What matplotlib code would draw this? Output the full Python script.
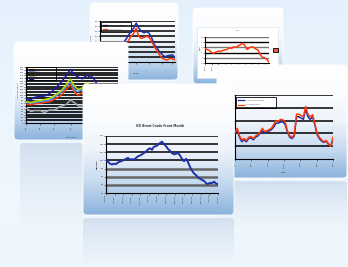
import numpy as np
import matplotlib
matplotlib.use("Agg")
import matplotlib.pyplot as plt
from matplotlib.patches import FancyBboxPatch, Rectangle
from matplotlib.colors import LinearSegmentedColormap

W, H = 348, 267

# --- data ---
# front panel: ICE Brent crude, front month (dollars)
brent = [100, 97, 92, 90, 92, 91, 95, 97, 99, 101, 104, 106, 102, 103, 102, 106,
         110, 112, 115, 118, 122, 127, 130, 126, 134, 135, 138, 143, 146, 140, 135,
         128, 124, 118, 115, 116, 119, 112, 104, 98, 104, 96, 84, 75, 68, 64, 58,
         55, 52, 50, 44, 42, 45, 44, 48, 43, 42]
brent_ticks = ["Jan-08", "Feb-08", "Mar-08", "Apr-08", "May-08", "Jun-08", "Jul-08",
               "Aug-08", "Sep-08", "Oct-08", "Nov-08", "Dec-08", "Jan-09", "Feb-09"]
brent_yticks = [20, 40, 60, 80, 100, 120, 140, 160]

# left panel: five retail series
c_dark = [88, 85, 82, 90, 92, 94, 96, 95, 97, 100, 106, 112, 122, 128, 138, 146, 158,
          168, 182, 191, 176, 170, 165, 160, 158, 166, 171, 163, 165, 155, 140, 135,
          130, 128, 132, 125, 120, 118, 122, 115]
c_yellow = [76, 75, 73, 75, 78, 79, 80, 82, 84, 86, 88, 92, 98, 104, 110, 116, 126,
            136, 150, 156, 138, 128, 120, 122, 126, 140, 142, 135, 130, 128, 125, 120,
            118, 115, 118, 112, 110, 108, 110, 105]
c_light = [73, 72, 70, 72, 74, 75, 76, 78, 79, 80, 82, 86, 92, 98, 104, 110, 120, 130,
           140, 145, 128, 115, 112, 116, 120, 130, 132, 126, 122, 120, 118, 114, 112,
           110, 112, 106, 104, 102, 104, 100]
c_red = [68, 66, 65, 67, 69, 70, 71, 72, 74, 75, 76, 80, 85, 88, 94, 100, 110, 120,
         130, 136, 118, 106, 100, 104, 110, 115, 118, 112, 108, 106, 104, 100, 98, 96,
         98, 92, 90, 88, 90, 86]
c_gray = [53, 48, 41, 43, 45, 44, 45, 40, 38, 42, 47, 46, 47, 50, 58, 60, 63, 66, 75,
          82, 75, 70, 62, 58, 65, 68, 60, 58, 56, 55, 54, 52, 50, 50, 52, 48, 47, 46,
          47, 45]
c_names = ["Regular", "Midgrade", "Premium", "Diesel", "Crude"]
c_ticks = ["1/1", "3/1", "5/1", "7/1"]

# top panel: weekly blue / red
a_blue = [28, 26, 30, 29, 32, 31, 34, 33, 36, 38, 44, 52, 60, 66, 76, 66, 60, 57, 59,
          56, 47, 34, 28, 20, 15, 10, 12, 13, 14, 8]
a_red = [22, 20, 24, 23, 25, 24, 27, 26, 28, 30, 34, 42, 50, 56, 66, 50, 46, 48, 50,
         48, 40, 30, 22, 14, 8, 5, 4, 7, 6, 4]
a_names = ["US Refiner Price", "US Retail Price"]

# top right panel: single red series
b_red = [2.8, 2.6, 2.4, 2.0, 1.9, 2.1, 2.3, 2.2, 2.4, 2.5, 2.6, 2.9, 2.8, 3.1, 3.0,
         3.3, 3.5, 3.8, 3.4, 2.6, 2.9, 3.1, 3.0, 2.7, 2.5, 1.6, 1.1, 1.0, 0.7, 0.2]

# right panel: daily blue / red
d_red = [2.1, 2.4, 1.8, 1.5, 1.6, 1.45, 1.7, 1.75, 1.6, 1.8, 1.9, 2.1, 2.4, 2.15, 2.2,
         2.3, 2.4, 2.7, 3.0, 2.95, 3.1, 3.05, 2.9, 2.2, 1.8, 1.7, 1.9, 3.5, 3.5, 3.4,
         3.3, 4.1, 3.5, 3.3, 3.45, 2.8, 2.0, 1.7, 1.5, 1.35, 1.45, 1.2, 1.0, 1.7]
d_blue = [2.0, 2.2, 1.7, 1.35, 1.5, 1.35, 1.6, 1.65, 1.5, 1.7, 1.8, 2.0, 2.2, 2.05, 2.1,
          2.2, 2.3, 2.5, 2.8, 2.8, 2.9, 2.9, 2.7, 2.1, 1.7, 1.6, 1.8, 3.3, 3.3, 3.2,
          3.1, 3.9, 3.3, 3.1, 3.3, 2.7, 1.9, 1.6, 1.4, 1.3, 1.4, 1.15, 1.0, 1.5]
d_names = ["NYMEX Front Month", "NY Harbor Spot"]
d_ticks = ["1/07", "4/07", "7/07", "10/07", "1/08", "4/08", "7/08"]

BLUE = "#1f2fa6"
RED = "#ff3a0a"

fig = plt.figure(figsize=(W / 100, H / 100), dpi=100)


def layer(z):
    ax = fig.add_axes([0, 0, 1, 1], zorder=z)
    ax.axis("off")
    return ax


def fix(ax):
    ax.set_xlim(0, W)
    ax.set_ylim(H, 0)


def grad_box(ax, x0, y0, x1, y1, stops, r=4, edge=None):
    cmap = LinearSegmentedColormap.from_list("g", stops)
    g = np.linspace(0, 1, 256).reshape(-1, 1)
    im = ax.imshow(g, cmap=cmap, extent=[x0, x1, y1, y0], aspect="auto",
                   origin="upper", vmin=0, vmax=1, interpolation="bilinear")
    clip = FancyBboxPatch((x0, y0), x1 - x0, y1 - y0,
                          boxstyle=f"round,pad=0,rounding_size={r}",
                          transform=ax.transData, fc="none", ec="none")
    im.set_clip_path(clip)
    if edge:
        ax.add_patch(FancyBboxPatch((x0, y0), x1 - x0, y1 - y0,
                                    boxstyle=f"round,pad=0,rounding_size={r}",
                                    fill=False, ec=edge, lw=0.6))
    fix(ax)


def chart(x0, y0, x1, y1, z):
    ax = fig.add_axes([x0 / W, 1 - y1 / H, (x1 - x0) / W, (y1 - y0) / H], zorder=z)
    ax.patch.set_alpha(0)
    for s in ["top", "right"]:
        ax.spines[s].set_visible(False)
    for s in ["left", "bottom"]:
        ax.spines[s].set_linewidth(0.8)
    ax.tick_params(labelsize=1.6, length=1.2, width=0.4, pad=0.5, colors="#333333")
    return ax


def hgrid(ax, vals, xmax, colors=None, lw=1.0):
    for i, v in enumerate(vals):
        c = colors[i % len(colors)] if colors else "black"
        ax.plot([0, xmax], [v, v], color=c, lw=lw, zorder=1, solid_capstyle="butt")


PANEL = ["#ffffff", "#fbfcfe", "#eef4fa", "#c6daef", "#8ab3dc"]
REFL = ["#d2e0ef", "#e3edf7", "#eef6fc"]

# background
bg = layer(0)
grad_box(bg, 0, 0, W, H, ["#e4f1fc", "#edf6fd", "#eef6fd"], r=0.01)
bg.add_patch(Rectangle((0, 178), W, 50, fc="#f2f8fd", ec="none", alpha=0.6))

# ---- panel A (top centre, back) ----
la = layer(1)
grad_box(la, 90, 3, 178, 80, PANEL, edge="#ffffff")
la.text(136, 73, "Week", fontsize=1.6, ha="center", va="center", color="#333333")
la.text(91, 40, "Cents/gallon", fontsize=1.5, rotation=90, ha="center", va="center",
        color="#333333")
aa = chart(100, 21, 175, 62, 1.5)
xa = np.arange(len(a_blue))
hgrid(aa, range(10, 81, 10), len(a_blue) - 1, lw=1.1)
aa.plot(xa, a_blue, color=BLUE, lw=1.1, zorder=3)
aa.plot(xa, a_red, color=RED, lw=1.1, zorder=3)
aa.set_xlim(0, len(a_blue) - 1)
aa.set_ylim(0, 80)
aa.set_yticks(range(0, 81, 10))
aa.set_xticks([14, 19, 24, 28])
aa.set_xticklabels(["", "", "", ""])
la.add_patch(Rectangle((101, 22), 30, 10, fc="white", ec="black", lw=0.6, zorder=5))
for k, (nm, cl) in enumerate(zip(a_names, [BLUE, RED])):
    yy = 25 + k * 4
    la.plot([103, 107], [yy, yy], color=cl, lw=0.9, zorder=6)
    la.text(108, yy, nm, fontsize=1.4, va="center", color="#333333", zorder=6)

# ---- panel B (top right) ----
lb = layer(2)
grad_box(lb, 193, 8, 283, 84, PANEL, edge="#ffffff")
lb.add_patch(Rectangle((197, 27), 81, 51, fc="white", ec="#dddddd", lw=0.4))
lb.text(238, 30.5, "HO", fontsize=1.6, ha="center", va="center", color="#333333")
lb.text(200.5, 48, "$/gal", fontsize=1.4, rotation=90, ha="center", va="center",
        color="#333333")
lb.add_patch(Rectangle((272.5, 48), 5, 3.5, fc="#e8624a", ec="black", lw=0.6))
ab = chart(205, 37, 269, 63, 2.5)
xb = np.arange(len(b_red))
hgrid(ab, [1, 2, 3, 4, 5], len(b_red) - 1, colors=["#777777", "black"], lw=1.0)
ab.plot(xb, b_red, color=RED, lw=1.1, zorder=3)
ab.set_xlim(0, len(b_red) - 1)
ab.set_ylim(0, 5)
ab.set_yticks(range(6))
ab.set_xticks(range(0, len(b_red), 3))
ab.set_xticklabels(["1/08"] * len(range(0, len(b_red), 3)), rotation=90)

# ---- panel C (left) ----
lc = layer(3)
grad_box(lc, 20, 143, 83, 225, REFL, r=4)
grad_box(lc, 14, 42, 128, 140, PANEL, edge="#ffffff")
lc.text(72, 137, "Month/Day", fontsize=1.5, ha="center", va="center", color="#333333")
lc.text(18.5, 90, "Cents per gallon", fontsize=1.4, rotation=90, ha="center",
        va="center", color="#333333")
ac = chart(26, 67, 118, 123, 3.5)
xc = np.arange(len(c_dark))
hgrid(ac, range(10, 201, 10), len(c_dark) - 1, lw=1.2)
for ser, cl in zip([c_gray, c_red, c_light, c_yellow, c_dark],
                   ["#a8a8a8", RED, "#4f8fea", "#b7e000", "#1a1a9c"]):
    ac.plot(xc, ser, color=cl, lw=1.1, zorder=3)
ac.set_xlim(0, len(c_dark) - 1)
ac.set_ylim(0, 200)
ac.set_yticks(range(0, 201, 10))
ac.set_xticks([0, 6, 12, 19])
ac.set_xticklabels(c_ticks, rotation=90)
lc.add_patch(Rectangle((27, 67), 29, 13, fc="white", ec="black", lw=0.6, zorder=5))
for k, (nm, cl) in enumerate(zip(c_names, [RED, "#4f8fea", "#b7e000", "#a8a8a8", "#1a1a9c"])):
    yy = 69 + k * 2.4
    lc.plot([28.5, 33], [yy, yy], color=cl, lw=0.9, zorder=6)
    lc.text(34, yy, nm, fontsize=1.2, va="center", color="#666666", zorder=6)

# ---- panel D (right) ----
ld = layer(4)
grad_box(ld, 218, 181, 347, 228, REFL, r=4)
grad_box(ld, 217, 65, 347, 178, PANEL, edge="#ffffff")
ld.text(283, 172, "Date", fontsize=1.6, ha="center", va="center", color="#333333")
ad = chart(235, 95, 333, 159, 4.5)
xd = np.arange(len(d_red))
hgrid(ad, [1, 2, 3, 4, 5], len(d_red) - 1, lw=1.1)
ad.plot(xd, d_blue, color=BLUE, lw=1.1, zorder=3)
ad.plot(xd, d_red, color=RED, lw=1.1, zorder=3)
ad.set_xlim(0, len(d_red) - 1)
ad.set_ylim(0, 5)
ad.set_yticks(range(6))
ad.set_xticks(np.linspace(0, len(d_red) - 1, len(d_ticks)))
ad.set_xticklabels(d_ticks, rotation=90)
ld.add_patch(Rectangle((235.5, 97), 40, 11, fc="white", ec="black", lw=0.6, zorder=5))
for k, (nm, cl) in enumerate(zip(d_names, [BLUE, RED])):
    yy = 100 + k * 4.5
    ld.plot([238, 244], [yy, yy], color=cl, lw=0.9, zorder=6)
    ld.text(245, yy, nm, fontsize=1.4, va="center", color="#444444", zorder=6)

# ---- panel E (front) ----
le = layer(5)
grad_box(le, 83, 218, 234, 264, REFL, r=4)
grad_box(le, 83, 84, 234, 215, PANEL, edge="#ffffff")
le.text(160, 126, "ICE Brent Crude Front Month", fontsize=2.2, fontweight="bold",
        ha="center", va="center", color="#333333")
le.text(97, 164, "Dollars", fontsize=1.7, fontweight="bold", rotation=90,
        ha="center", va="center", color="#333333")
ae = chart(106, 136, 218, 193, 5.5)
xe = np.arange(len(brent))
hgrid(ae, [40, 60, 80], len(brent) - 1, colors=["#666666"], lw=1.8)
hgrid(ae, [100, 120, 140, 160], len(brent) - 1, lw=1.1)
ae.plot(xe, brent, color=BLUE, lw=1.4, zorder=3)
ae.set_xlim(0, len(brent) - 1)
ae.set_ylim(20, 160)
ae.set_yticks(brent_yticks)
ae.set_xticks(np.linspace(0, len(brent) - 1, len(brent_ticks)))
ae.set_xticklabels(brent_ticks, rotation=90)

fig.savefig("out.png", dpi=100)
